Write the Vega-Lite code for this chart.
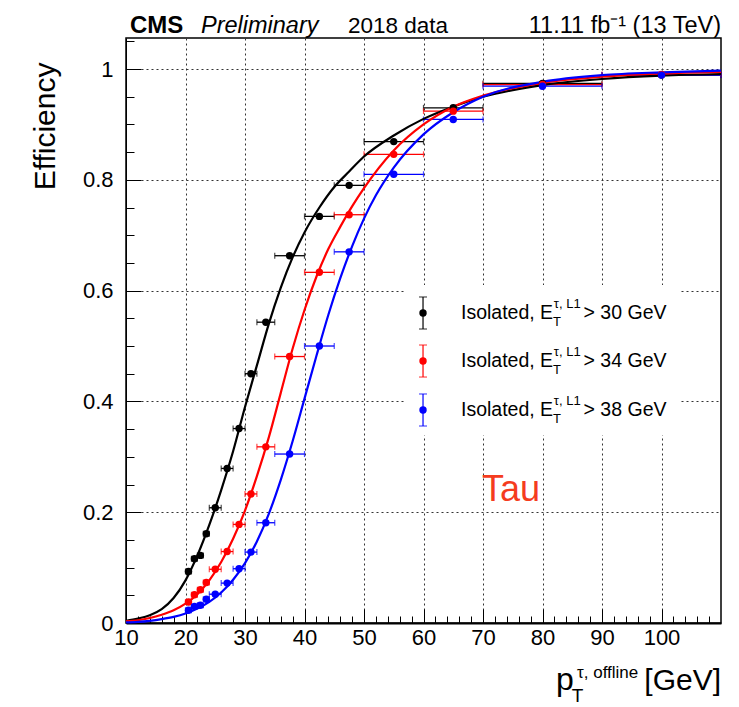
{
  "$schema": "https://vega.github.io/schema/vega-lite/v6.json",
  "width": 595,
  "height": 585,
  "autosize": {"type": "none"},
  "padding": {"left": 126, "top": 38, "right": 18, "bottom": 84},
  "background": "white",
  "config": {"view": {"stroke": "#000", "strokeWidth": 1.5}, "font": "Liberation Sans"},
  "datasets": {
    "pts": [
      {"s": "30", "x": 20.5, "y": 0.093, "xlo": 20, "xhi": 21},
      {"s": "30", "x": 21.5, "y": 0.116, "xlo": 21, "xhi": 22},
      {"s": "30", "x": 22.5, "y": 0.122, "xlo": 22, "xhi": 23},
      {"s": "30", "x": 23.5, "y": 0.161, "xlo": 23, "xhi": 24},
      {"s": "30", "x": 25, "y": 0.208, "xlo": 24, "xhi": 26},
      {"s": "30", "x": 27, "y": 0.279, "xlo": 26, "xhi": 28},
      {"s": "30", "x": 29, "y": 0.351, "xlo": 28, "xhi": 30},
      {"s": "30", "x": 31, "y": 0.45, "xlo": 30, "xhi": 32},
      {"s": "30", "x": 33.5, "y": 0.543, "xlo": 32, "xhi": 35},
      {"s": "30", "x": 37.5, "y": 0.663, "xlo": 35, "xhi": 40},
      {"s": "30", "x": 42.5, "y": 0.734, "xlo": 40, "xhi": 45},
      {"s": "30", "x": 47.5, "y": 0.79, "xlo": 45, "xhi": 50},
      {"s": "30", "x": 55, "y": 0.869, "xlo": 50, "xhi": 60},
      {"s": "30", "x": 65, "y": 0.93, "xlo": 60, "xhi": 70},
      {"s": "30", "x": 80, "y": 0.974, "xlo": 70, "xhi": 90},
      {"s": "30", "x": 100, "y": 0.989, "xlo": 90, "xhi": 110},
      {"s": "34", "x": 20.5, "y": 0.038, "xlo": 20, "xhi": 21},
      {"s": "34", "x": 21.5, "y": 0.051, "xlo": 21, "xhi": 22},
      {"s": "34", "x": 22.5, "y": 0.06, "xlo": 22, "xhi": 23},
      {"s": "34", "x": 23.5, "y": 0.073, "xlo": 23, "xhi": 24},
      {"s": "34", "x": 25, "y": 0.097, "xlo": 24, "xhi": 26},
      {"s": "34", "x": 27, "y": 0.129, "xlo": 26, "xhi": 28},
      {"s": "34", "x": 29, "y": 0.178, "xlo": 28, "xhi": 30},
      {"s": "34", "x": 31, "y": 0.233, "xlo": 30, "xhi": 32},
      {"s": "34", "x": 33.5, "y": 0.318, "xlo": 32, "xhi": 35},
      {"s": "34", "x": 37.5, "y": 0.481, "xlo": 35, "xhi": 40},
      {"s": "34", "x": 42.5, "y": 0.633, "xlo": 40, "xhi": 45},
      {"s": "34", "x": 47.5, "y": 0.737, "xlo": 45, "xhi": 50},
      {"s": "34", "x": 55, "y": 0.846, "xlo": 50, "xhi": 60},
      {"s": "34", "x": 65, "y": 0.924, "xlo": 60, "xhi": 70},
      {"s": "34", "x": 80, "y": 0.972, "xlo": 70, "xhi": 90},
      {"s": "34", "x": 100, "y": 0.99, "xlo": 90, "xhi": 110},
      {"s": "38", "x": 20.5, "y": 0.023, "xlo": 20, "xhi": 21},
      {"s": "38", "x": 21.5, "y": 0.03, "xlo": 21, "xhi": 22},
      {"s": "38", "x": 22.5, "y": 0.032, "xlo": 22, "xhi": 23},
      {"s": "38", "x": 23.5, "y": 0.043, "xlo": 23, "xhi": 24},
      {"s": "38", "x": 25, "y": 0.052, "xlo": 24, "xhi": 26},
      {"s": "38", "x": 27, "y": 0.072, "xlo": 26, "xhi": 28},
      {"s": "38", "x": 29, "y": 0.098, "xlo": 28, "xhi": 30},
      {"s": "38", "x": 31, "y": 0.128, "xlo": 30, "xhi": 32},
      {"s": "38", "x": 33.5, "y": 0.181, "xlo": 32, "xhi": 35},
      {"s": "38", "x": 37.5, "y": 0.305, "xlo": 35, "xhi": 40},
      {"s": "38", "x": 42.5, "y": 0.5, "xlo": 40, "xhi": 45},
      {"s": "38", "x": 47.5, "y": 0.67, "xlo": 45, "xhi": 50},
      {"s": "38", "x": 55, "y": 0.81, "xlo": 50, "xhi": 60},
      {"s": "38", "x": 65, "y": 0.909, "xlo": 60, "xhi": 70},
      {"s": "38", "x": 80, "y": 0.969, "xlo": 70, "xhi": 90},
      {"s": "38", "x": 100, "y": 0.989, "xlo": 90, "xhi": 110}
    ],
    "fit": [
      {"s": "30", "x": 10, "y": 0.004}, {"s": "30", "x": 12, "y": 0.008}, {"s": "30", "x": 14, "y": 0.014},
      {"s": "30", "x": 16, "y": 0.025}, {"s": "30", "x": 18, "y": 0.045}, {"s": "30", "x": 20, "y": 0.077},
      {"s": "30", "x": 22, "y": 0.122}, {"s": "30", "x": 24, "y": 0.177}, {"s": "30", "x": 26, "y": 0.24},
      {"s": "30", "x": 28, "y": 0.31}, {"s": "30", "x": 30, "y": 0.39}, {"s": "30", "x": 32, "y": 0.465},
      {"s": "30", "x": 34, "y": 0.54}, {"s": "30", "x": 36, "y": 0.605}, {"s": "30", "x": 38, "y": 0.66},
      {"s": "30", "x": 40, "y": 0.705}, {"s": "30", "x": 42.5, "y": 0.75}, {"s": "30", "x": 45, "y": 0.787},
      {"s": "30", "x": 47.5, "y": 0.815}, {"s": "30", "x": 50, "y": 0.842}, {"s": "30", "x": 55, "y": 0.88},
      {"s": "30", "x": 60, "y": 0.91}, {"s": "30", "x": 65, "y": 0.932}, {"s": "30", "x": 70, "y": 0.95},
      {"s": "30", "x": 75, "y": 0.962}, {"s": "30", "x": 80, "y": 0.971}, {"s": "30", "x": 90, "y": 0.982},
      {"s": "30", "x": 100, "y": 0.988}, {"s": "30", "x": 110, "y": 0.991},
      {"s": "34", "x": 10, "y": 0.003}, {"s": "34", "x": 12, "y": 0.005}, {"s": "34", "x": 14, "y": 0.009},
      {"s": "34", "x": 16, "y": 0.015}, {"s": "34", "x": 18, "y": 0.023}, {"s": "34", "x": 20, "y": 0.035},
      {"s": "34", "x": 22, "y": 0.052}, {"s": "34", "x": 24, "y": 0.077}, {"s": "34", "x": 26, "y": 0.11},
      {"s": "34", "x": 28, "y": 0.152}, {"s": "34", "x": 30, "y": 0.203}, {"s": "34", "x": 32, "y": 0.265},
      {"s": "34", "x": 34, "y": 0.335}, {"s": "34", "x": 36, "y": 0.415}, {"s": "34", "x": 38, "y": 0.495},
      {"s": "34", "x": 40, "y": 0.565}, {"s": "34", "x": 42, "y": 0.625}, {"s": "34", "x": 44, "y": 0.675},
      {"s": "34", "x": 46, "y": 0.715}, {"s": "34", "x": 48, "y": 0.752}, {"s": "34", "x": 50, "y": 0.785},
      {"s": "34", "x": 55, "y": 0.853}, {"s": "34", "x": 60, "y": 0.9}, {"s": "34", "x": 65, "y": 0.932},
      {"s": "34", "x": 70, "y": 0.952}, {"s": "34", "x": 80, "y": 0.975}, {"s": "34", "x": 90, "y": 0.986},
      {"s": "34", "x": 100, "y": 0.992}, {"s": "34", "x": 110, "y": 0.995},
      {"s": "38", "x": 10, "y": 0.001}, {"s": "38", "x": 12, "y": 0.002}, {"s": "38", "x": 14, "y": 0.004},
      {"s": "38", "x": 16, "y": 0.007}, {"s": "38", "x": 18, "y": 0.011}, {"s": "38", "x": 20, "y": 0.017},
      {"s": "38", "x": 22, "y": 0.026}, {"s": "38", "x": 24, "y": 0.038}, {"s": "38", "x": 26, "y": 0.055},
      {"s": "38", "x": 28, "y": 0.078}, {"s": "38", "x": 30, "y": 0.108}, {"s": "38", "x": 32, "y": 0.147},
      {"s": "38", "x": 34, "y": 0.197}, {"s": "38", "x": 36, "y": 0.258}, {"s": "38", "x": 38, "y": 0.328},
      {"s": "38", "x": 40, "y": 0.405}, {"s": "38", "x": 42, "y": 0.482}, {"s": "38", "x": 44, "y": 0.556},
      {"s": "38", "x": 46, "y": 0.622}, {"s": "38", "x": 48, "y": 0.68}, {"s": "38", "x": 50, "y": 0.73},
      {"s": "38", "x": 52, "y": 0.772}, {"s": "38", "x": 55, "y": 0.822}, {"s": "38", "x": 60, "y": 0.882},
      {"s": "38", "x": 65, "y": 0.922}, {"s": "38", "x": 70, "y": 0.95}, {"s": "38", "x": 80, "y": 0.977},
      {"s": "38", "x": 90, "y": 0.989}, {"s": "38", "x": 100, "y": 0.994}, {"s": "38", "x": 110, "y": 0.997}
    ]
  },
  "resolve": {"axis": {"x": "independent", "y": "independent"}},
  "layer": [
    {
      "data": {"name": "pts"},
      "mark": {"type": "rule", "strokeWidth": 1.3},
      "encoding": {
        "x": {"field": "xlo", "type": "quantitative", "scale": {"domain": [10, 110], "nice": false, "zero": false},
          "axis": {"orient": "bottom", "values": [10, 20, 30, 40, 50, 60, 70, 80, 90, 100], "format": "d", "title": null,
            "labelFont": "Liberation Sans", "labelFontSize": 22, "labelColor": "#000", "labelPadding": 18, "labelFlush": false, "labelOverlap": false,
            "tickSize": -14, "tickColor": "#000", "tickWidth": 1, "domainColor": "#000", "domainWidth": 2,
            "grid": true, "gridDash": [2, 3], "gridColor": "#333", "gridWidth": 1}},
        "x2": {"field": "xhi"},
        "y": {"field": "y", "type": "quantitative", "scale": {"domain": [0, 1.056], "nice": false, "zero": false},
          "axis": {"orient": "left", "values": [0, 0.2, 0.4, 0.6, 0.8, 1], "format": "~g",
            "labelFont": "Liberation Sans", "labelFontSize": 22, "labelColor": "#000", "labelPadding": 28, "labelFlush": false, "labelOverlap": false,
            "tickSize": -15, "tickColor": "#000", "tickWidth": 1, "domainColor": "#000", "domainWidth": 1,
            "grid": true, "gridDash": [2, 3], "gridColor": "#333", "gridWidth": 1,
            "title": "Efficiency", "titleFont": "Liberation Sans", "titleFontSize": 30, "titleFontWeight": "normal", "titleColor": "#000",
            "titleAngle": -90, "titleAlign": "right", "titleBaseline": "alphabetic", "titleX": -72, "titleY": 24}},
        "color": {"field": "s", "type": "nominal", "scale": {"domain": ["30", "34", "38"], "range": ["#000000", "#ff0000", "#0000ff"]}, "legend": null}
      }
    },
    {
      "data": {"name": "pts"},
      "transform": [{"fold": ["xlo", "xhi"], "as": ["k", "v"]}],
      "mark": {"type": "tick", "orient": "vertical", "size": 6, "thickness": 1.2},
      "encoding": {
        "x": {"field": "v", "type": "quantitative", "scale": {"domain": [10, 110], "nice": false, "zero": false},
          "axis": {"orient": "bottom", "values": [10, 12, 14, 16, 18, 20, 22, 24, 26, 28, 30, 32, 34, 36, 38, 40, 42, 44, 46, 48, 50, 52, 54, 56, 58, 60, 62, 64, 66, 68, 70, 72, 74, 76, 78, 80, 82, 84, 86, 88, 90, 92, 94, 96, 98, 100, 102, 104, 106, 108],
            "labels": false, "domain": false, "grid": false, "title": null, "tickSize": -7, "tickColor": "#000", "tickWidth": 1}},
        "y": {"field": "y", "type": "quantitative", "scale": {"domain": [0, 1.056], "nice": false, "zero": false},
          "axis": {"orient": "left", "values": [0, 0.05, 0.1, 0.15, 0.2, 0.25, 0.3, 0.35, 0.4, 0.45, 0.5, 0.55, 0.6, 0.65, 0.7, 0.75, 0.8, 0.85, 0.9, 0.95, 1, 1.05],
            "labels": false, "domain": false, "grid": false, "title": null, "tickSize": -8, "tickColor": "#000", "tickWidth": 1}},
        "color": {"field": "s", "type": "nominal", "legend": null}
      }
    },
    {
      "data": {"name": "fit"},
      "mark": {"type": "line", "strokeWidth": 2.2, "interpolate": "monotone"},
      "encoding": {
        "x": {"field": "x", "type": "quantitative", "scale": {"domain": [10, 110], "nice": false, "zero": false}, "axis": null},
        "y": {"field": "y", "type": "quantitative", "scale": {"domain": [0, 1.056], "nice": false, "zero": false}, "axis": null},
        "color": {"field": "s", "type": "nominal", "legend": null},
        "detail": {"field": "s"}
      }
    },
    {
      "data": {"name": "pts"},
      "mark": {"type": "point", "filled": true, "shape": "circle", "size": 55, "opacity": 1},
      "encoding": {
        "x": {"field": "x", "type": "quantitative", "scale": {"domain": [10, 110], "nice": false, "zero": false}, "axis": null},
        "y": {"field": "y", "type": "quantitative", "scale": {"domain": [0, 1.056], "nice": false, "zero": false}, "axis": null},
        "color": {"field": "s", "type": "nominal", "legend": null}
      }
    },
    {
      "data": {"values": [{}]},
      "mark": {"type": "rect", "fill": "white", "stroke": null},
      "encoding": {
        "x": {"datum": 56.9, "type": "quantitative", "scale": {"domain": [10, 110], "nice": false, "zero": false}, "axis": null},
        "x2": {"datum": 103.1},
        "y": {"datum": 0.61, "type": "quantitative", "scale": {"domain": [0, 1.056], "nice": false, "zero": false}, "axis": null},
        "y2": {"datum": 0.339}
      }
    },
    {
      "data": {"values": [{}]},
      "layer": [
        {"mark": {"type": "rule", "strokeWidth": 1.2, "color": "#000"},
         "encoding": {
           "x": {"datum": 59.92, "type": "quantitative", "scale": {"domain": [10, 110], "nice": false, "zero": false}, "axis": null},
           "y": {"datum": 0.5885, "type": "quantitative", "scale": {"domain": [0, 1.056], "nice": false, "zero": false}, "axis": null},
           "y2": {"datum": 0.5307}}},
        {"mark": {"type": "rule", "strokeWidth": 1.2, "color": "#ff0000"},
         "encoding": {
           "x": {"datum": 59.92, "type": "quantitative", "scale": {"domain": [10, 110], "nice": false, "zero": false}, "axis": null},
           "y": {"datum": 0.5018, "type": "quantitative", "scale": {"domain": [0, 1.056], "nice": false, "zero": false}, "axis": null},
           "y2": {"datum": 0.444}}},
        {"mark": {"type": "rule", "strokeWidth": 1.2, "color": "#0000ff"},
         "encoding": {
           "x": {"datum": 59.92, "type": "quantitative", "scale": {"domain": [10, 110], "nice": false, "zero": false}, "axis": null},
           "y": {"datum": 0.4134, "type": "quantitative", "scale": {"domain": [0, 1.056], "nice": false, "zero": false}, "axis": null},
           "y2": {"datum": 0.3556}}},
        {"mark": {"type": "tick", "orient": "horizontal", "size": 8, "thickness": 1.2, "color": "#000"},
         "encoding": {"x": {"datum": 59.92, "type": "quantitative", "scale": {"domain": [10, 110], "nice": false, "zero": false}, "axis": null},
           "y": {"datum": 0.5885, "type": "quantitative", "scale": {"domain": [0, 1.056], "nice": false, "zero": false}, "axis": null}}},
        {"mark": {"type": "tick", "orient": "horizontal", "size": 8, "thickness": 1.2, "color": "#000"},
         "encoding": {"x": {"datum": 59.92, "type": "quantitative", "scale": {"domain": [10, 110], "nice": false, "zero": false}, "axis": null},
           "y": {"datum": 0.5307, "type": "quantitative", "scale": {"domain": [0, 1.056], "nice": false, "zero": false}, "axis": null}}},
        {"mark": {"type": "tick", "orient": "horizontal", "size": 8, "thickness": 1.2, "color": "#ff0000"},
         "encoding": {"x": {"datum": 59.92, "type": "quantitative", "scale": {"domain": [10, 110], "nice": false, "zero": false}, "axis": null},
           "y": {"datum": 0.5018, "type": "quantitative", "scale": {"domain": [0, 1.056], "nice": false, "zero": false}, "axis": null}}},
        {"mark": {"type": "tick", "orient": "horizontal", "size": 8, "thickness": 1.2, "color": "#ff0000"},
         "encoding": {"x": {"datum": 59.92, "type": "quantitative", "scale": {"domain": [10, 110], "nice": false, "zero": false}, "axis": null},
           "y": {"datum": 0.444, "type": "quantitative", "scale": {"domain": [0, 1.056], "nice": false, "zero": false}, "axis": null}}},
        {"mark": {"type": "tick", "orient": "horizontal", "size": 8, "thickness": 1.2, "color": "#0000ff"},
         "encoding": {"x": {"datum": 59.92, "type": "quantitative", "scale": {"domain": [10, 110], "nice": false, "zero": false}, "axis": null},
           "y": {"datum": 0.4134, "type": "quantitative", "scale": {"domain": [0, 1.056], "nice": false, "zero": false}, "axis": null}}},
        {"mark": {"type": "tick", "orient": "horizontal", "size": 8, "thickness": 1.2, "color": "#0000ff"},
         "encoding": {"x": {"datum": 59.92, "type": "quantitative", "scale": {"domain": [10, 110], "nice": false, "zero": false}, "axis": null},
           "y": {"datum": 0.3556, "type": "quantitative", "scale": {"domain": [0, 1.056], "nice": false, "zero": false}, "axis": null}}},
        {"mark": {"type": "point", "filled": true, "shape": "circle", "size": 55, "opacity": 1, "color": "#000"},
         "encoding": {"x": {"datum": 59.92, "type": "quantitative", "scale": {"domain": [10, 110], "nice": false, "zero": false}, "axis": null},
           "y": {"datum": 0.5596, "type": "quantitative", "scale": {"domain": [0, 1.056], "nice": false, "zero": false}, "axis": null}}},
        {"mark": {"type": "point", "filled": true, "shape": "circle", "size": 55, "opacity": 1, "color": "#ff0000"},
         "encoding": {"x": {"datum": 59.92, "type": "quantitative", "scale": {"domain": [10, 110], "nice": false, "zero": false}, "axis": null},
           "y": {"datum": 0.4729, "type": "quantitative", "scale": {"domain": [0, 1.056], "nice": false, "zero": false}, "axis": null}}},
        {"mark": {"type": "point", "filled": true, "shape": "circle", "size": 55, "opacity": 1, "color": "#0000ff"},
         "encoding": {"x": {"datum": 59.92, "type": "quantitative", "scale": {"domain": [10, 110], "nice": false, "zero": false}, "axis": null},
           "y": {"datum": 0.3845, "type": "quantitative", "scale": {"domain": [0, 1.056], "nice": false, "zero": false}, "axis": null}}}
      ]
    },
    {
      "data": {"values": [{}]},
      "layer": [
        {"mark": {"type": "text", "text": "Isolated, E", "font": "Liberation Sans", "fontSize": 19.5, "align": "left", "baseline": "middle", "color": "#000"},
         "encoding": {"x": {"datum": 66.3, "type": "quantitative", "scale": {"domain": [10, 110], "nice": false, "zero": false}, "axis": null},
           "y": {"datum": 0.5596, "type": "quantitative", "scale": {"domain": [0, 1.056], "nice": false, "zero": false}, "axis": null}}},
        {"mark": {"type": "text", "text": "T", "font": "Liberation Sans", "fontSize": 13, "align": "left", "baseline": "middle", "dy": 9, "color": "#000"},
         "encoding": {"x": {"datum": 81.76, "type": "quantitative", "scale": {"domain": [10, 110], "nice": false, "zero": false}, "axis": null},
           "y": {"datum": 0.5596, "type": "quantitative", "scale": {"domain": [0, 1.056], "nice": false, "zero": false}, "axis": null}}},
        {"mark": {"type": "text", "text": "τ, L1", "font": "Liberation Sans", "fontSize": 13, "align": "left", "baseline": "middle", "dy": -9, "color": "#000"},
         "encoding": {"x": {"datum": 81.9, "type": "quantitative", "scale": {"domain": [10, 110], "nice": false, "zero": false}, "axis": null},
           "y": {"datum": 0.5596, "type": "quantitative", "scale": {"domain": [0, 1.056], "nice": false, "zero": false}, "axis": null}}},
        {"mark": {"type": "text", "text": "> 30 GeV", "font": "Liberation Sans", "fontSize": 19.5, "align": "left", "baseline": "middle", "color": "#000"},
         "encoding": {"x": {"datum": 86.9, "type": "quantitative", "scale": {"domain": [10, 110], "nice": false, "zero": false}, "axis": null},
           "y": {"datum": 0.5596, "type": "quantitative", "scale": {"domain": [0, 1.056], "nice": false, "zero": false}, "axis": null}}},
        {"mark": {"type": "text", "text": "Isolated, E", "font": "Liberation Sans", "fontSize": 19.5, "align": "left", "baseline": "middle", "color": "#000"},
         "encoding": {"x": {"datum": 66.3, "type": "quantitative", "scale": {"domain": [10, 110], "nice": false, "zero": false}, "axis": null},
           "y": {"datum": 0.4729, "type": "quantitative", "scale": {"domain": [0, 1.056], "nice": false, "zero": false}, "axis": null}}},
        {"mark": {"type": "text", "text": "T", "font": "Liberation Sans", "fontSize": 13, "align": "left", "baseline": "middle", "dy": 9, "color": "#000"},
         "encoding": {"x": {"datum": 81.76, "type": "quantitative", "scale": {"domain": [10, 110], "nice": false, "zero": false}, "axis": null},
           "y": {"datum": 0.4729, "type": "quantitative", "scale": {"domain": [0, 1.056], "nice": false, "zero": false}, "axis": null}}},
        {"mark": {"type": "text", "text": "τ, L1", "font": "Liberation Sans", "fontSize": 13, "align": "left", "baseline": "middle", "dy": -9, "color": "#000"},
         "encoding": {"x": {"datum": 81.9, "type": "quantitative", "scale": {"domain": [10, 110], "nice": false, "zero": false}, "axis": null},
           "y": {"datum": 0.4729, "type": "quantitative", "scale": {"domain": [0, 1.056], "nice": false, "zero": false}, "axis": null}}},
        {"mark": {"type": "text", "text": "> 34 GeV", "font": "Liberation Sans", "fontSize": 19.5, "align": "left", "baseline": "middle", "color": "#000"},
         "encoding": {"x": {"datum": 86.9, "type": "quantitative", "scale": {"domain": [10, 110], "nice": false, "zero": false}, "axis": null},
           "y": {"datum": 0.4729, "type": "quantitative", "scale": {"domain": [0, 1.056], "nice": false, "zero": false}, "axis": null}}},
        {"mark": {"type": "text", "text": "Isolated, E", "font": "Liberation Sans", "fontSize": 19.5, "align": "left", "baseline": "middle", "color": "#000"},
         "encoding": {"x": {"datum": 66.3, "type": "quantitative", "scale": {"domain": [10, 110], "nice": false, "zero": false}, "axis": null},
           "y": {"datum": 0.3845, "type": "quantitative", "scale": {"domain": [0, 1.056], "nice": false, "zero": false}, "axis": null}}},
        {"mark": {"type": "text", "text": "T", "font": "Liberation Sans", "fontSize": 13, "align": "left", "baseline": "middle", "dy": 9, "color": "#000"},
         "encoding": {"x": {"datum": 81.76, "type": "quantitative", "scale": {"domain": [10, 110], "nice": false, "zero": false}, "axis": null},
           "y": {"datum": 0.3845, "type": "quantitative", "scale": {"domain": [0, 1.056], "nice": false, "zero": false}, "axis": null}}},
        {"mark": {"type": "text", "text": "τ, L1", "font": "Liberation Sans", "fontSize": 13, "align": "left", "baseline": "middle", "dy": -9, "color": "#000"},
         "encoding": {"x": {"datum": 81.9, "type": "quantitative", "scale": {"domain": [10, 110], "nice": false, "zero": false}, "axis": null},
           "y": {"datum": 0.3845, "type": "quantitative", "scale": {"domain": [0, 1.056], "nice": false, "zero": false}, "axis": null}}},
        {"mark": {"type": "text", "text": "> 38 GeV", "font": "Liberation Sans", "fontSize": 19.5, "align": "left", "baseline": "middle", "color": "#000"},
         "encoding": {"x": {"datum": 86.9, "type": "quantitative", "scale": {"domain": [10, 110], "nice": false, "zero": false}, "axis": null},
           "y": {"datum": 0.3845, "type": "quantitative", "scale": {"domain": [0, 1.056], "nice": false, "zero": false}, "axis": null}}},
        {"mark": {"type": "text", "text": "Tau", "font": "Liberation Sans", "fontSize": 36, "align": "center", "baseline": "middle", "color": "#f53c1e"},
         "encoding": {"x": {"datum": 74.7, "type": "quantitative", "scale": {"domain": [10, 110], "nice": false, "zero": false}, "axis": null},
           "y": {"datum": 0.24, "type": "quantitative", "scale": {"domain": [0, 1.056], "nice": false, "zero": false}, "axis": null}}},
        {"mark": {"type": "text", "text": "CMS", "font": "Liberation Sans", "fontSize": 24, "fontWeight": "bold", "align": "left", "baseline": "alphabetic", "color": "#000"},
         "encoding": {"x": {"datum": 10.67, "type": "quantitative", "scale": {"domain": [10, 110], "nice": false, "zero": false}, "axis": null},
           "y": {"datum": 1.065, "type": "quantitative", "scale": {"domain": [0, 1.056], "nice": false, "zero": false}, "axis": null}}},
        {"mark": {"type": "text", "text": "Preliminary", "font": "Liberation Sans", "fontSize": 23.5, "fontStyle": "italic", "align": "left", "baseline": "alphabetic", "color": "#000"},
         "encoding": {"x": {"datum": 22.6, "type": "quantitative", "scale": {"domain": [10, 110], "nice": false, "zero": false}, "axis": null},
           "y": {"datum": 1.065, "type": "quantitative", "scale": {"domain": [0, 1.056], "nice": false, "zero": false}, "axis": null}}},
        {"mark": {"type": "text", "text": "2018 data", "font": "Liberation Sans", "fontSize": 22.5, "align": "left", "baseline": "alphabetic", "color": "#000"},
         "encoding": {"x": {"datum": 47.3, "type": "quantitative", "scale": {"domain": [10, 110], "nice": false, "zero": false}, "axis": null},
           "y": {"datum": 1.065, "type": "quantitative", "scale": {"domain": [0, 1.056], "nice": false, "zero": false}, "axis": null}}},
        {"mark": {"type": "text", "text": "11.11 fb⁻¹ (13 TeV)", "font": "Liberation Sans", "fontSize": 23.5, "align": "right", "baseline": "alphabetic", "color": "#000"},
         "encoding": {"x": {"datum": 110, "type": "quantitative", "scale": {"domain": [10, 110], "nice": false, "zero": false}, "axis": null},
           "y": {"datum": 1.065, "type": "quantitative", "scale": {"domain": [0, 1.056], "nice": false, "zero": false}, "axis": null}}},
        {"mark": {"type": "text", "text": "p", "font": "Liberation Sans", "fontSize": 32, "align": "left", "baseline": "alphabetic", "color": "#000"},
         "encoding": {"x": {"datum": 82.27, "type": "quantitative", "scale": {"domain": [10, 110], "nice": false, "zero": false}, "axis": null},
           "y": {"datum": -0.121, "type": "quantitative", "scale": {"domain": [0, 1.056], "nice": false, "zero": false}, "axis": null}}},
        {"mark": {"type": "text", "text": "T", "font": "Liberation Sans", "fontSize": 19, "align": "left", "baseline": "alphabetic", "color": "#000"},
         "encoding": {"x": {"datum": 84.9, "type": "quantitative", "scale": {"domain": [10, 110], "nice": false, "zero": false}, "axis": null},
           "y": {"datum": -0.1435, "type": "quantitative", "scale": {"domain": [0, 1.056], "nice": false, "zero": false}, "axis": null}}},
        {"mark": {"type": "text", "text": "τ, offline", "font": "Liberation Sans", "fontSize": 17, "align": "left", "baseline": "alphabetic", "color": "#000"},
         "encoding": {"x": {"datum": 85.8, "type": "quantitative", "scale": {"domain": [10, 110], "nice": false, "zero": false}, "axis": null},
           "y": {"datum": -0.0993, "type": "quantitative", "scale": {"domain": [0, 1.056], "nice": false, "zero": false}, "axis": null}}},
        {"mark": {"type": "text", "text": "[GeV]", "font": "Liberation Sans", "fontSize": 30, "align": "right", "baseline": "alphabetic", "color": "#000"},
         "encoding": {"x": {"datum": 110, "type": "quantitative", "scale": {"domain": [10, 110], "nice": false, "zero": false}, "axis": null},
           "y": {"datum": -0.121, "type": "quantitative", "scale": {"domain": [0, 1.056], "nice": false, "zero": false}, "axis": null}}}
      ]
    }
  ]
}
